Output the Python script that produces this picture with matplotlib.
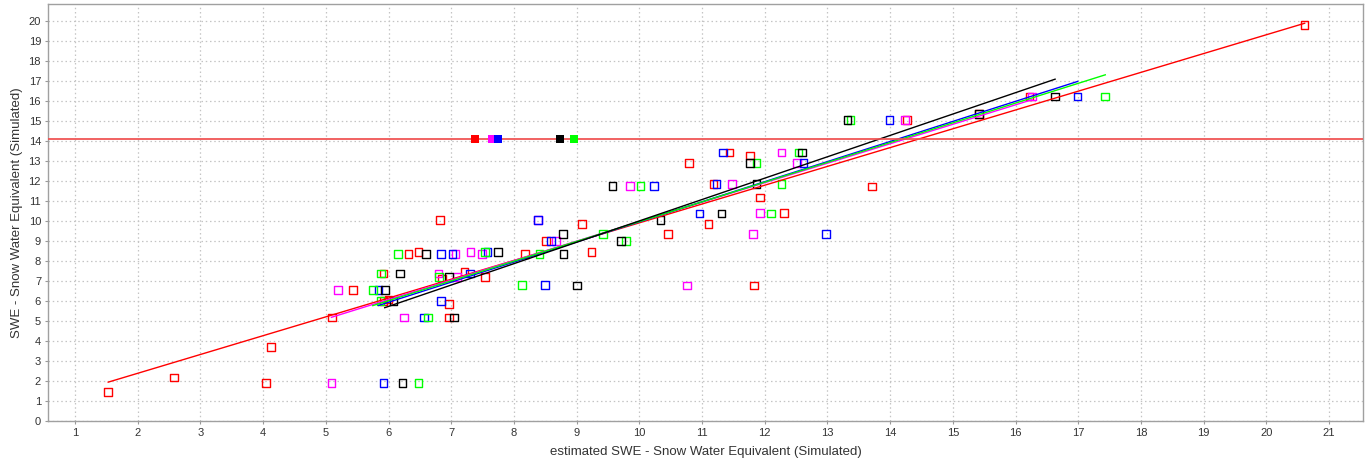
import numpy as np
import matplotlib
matplotlib.use("Agg")
import matplotlib.pyplot as plt

# ---- data ----
red_x = [1.53, 2.58, 4.05, 4.13, 5.10, 5.43, 5.92, 5.92, 6.00, 6.32, 6.48, 6.82, 6.85, 6.96, 6.96,
         7.21, 7.54, 8.18, 8.51, 9.09, 9.24, 10.46, 10.79, 11.10, 11.18, 11.44, 11.76, 11.83, 11.92,
         12.31, 13.71, 14.27, 15.42, 16.22, 20.61]
red_y = [1.45, 2.17, 1.89, 3.69, 5.17, 6.54, 7.36, 5.99, 6.07, 8.33, 8.44, 10.03, 7.12, 5.84, 5.17,
         7.43, 7.20, 8.34, 9.00, 9.83, 8.44, 9.33, 12.88, 9.83, 11.85, 13.41, 13.26, 6.76, 11.16,
         10.38, 11.72, 15.05, 15.35, 16.22, 19.80]

magenta_x = [5.09, 5.19, 6.25, 6.80, 7.07, 7.09, 7.31, 7.49, 8.38, 8.67, 9.85, 10.76, 11.48, 11.81,
             11.92, 12.27, 12.51, 14.24, 16.26]
magenta_y = [1.89, 6.54, 5.17, 7.36, 8.33, 7.20, 8.44, 8.33, 10.03, 8.99, 11.75, 6.76, 11.85, 9.33,
             10.38, 13.41, 12.88, 15.05, 16.22]

blue_x = [5.84, 5.92, 6.57, 6.84, 6.84, 7.02, 7.30, 7.58, 8.38, 8.50, 8.59, 10.23, 10.96, 11.23,
          11.33, 12.62, 12.98, 13.99, 16.99]
blue_y = [6.54, 1.89, 5.17, 8.33, 5.99, 8.33, 7.36, 8.44, 10.03, 6.78, 8.99, 11.75, 10.36, 11.85,
          13.41, 12.88, 9.33, 15.05, 16.22]

green_x = [5.75, 5.87, 5.88, 6.15, 6.48, 6.63, 6.81, 7.54, 8.13, 8.41, 9.42, 9.79, 10.02, 11.87,
           12.10, 12.27, 12.54, 13.37, 17.43]
green_y = [6.54, 5.99, 7.36, 8.33, 1.89, 5.17, 7.20, 8.44, 6.78, 8.34, 9.33, 8.99, 11.75, 12.88,
           10.36, 11.83, 13.41, 15.05, 16.22]

black_x = [5.94, 6.08, 6.18, 6.22, 6.60, 6.96, 7.04, 7.75, 8.78, 8.79, 9.01, 9.57, 9.71, 10.34,
           11.31, 11.76, 11.87, 12.59, 13.32, 15.42, 16.63]
black_y = [6.54, 5.99, 7.36, 1.89, 8.33, 7.20, 5.17, 8.44, 9.33, 8.34, 6.76, 11.75, 8.99, 10.03,
           10.36, 12.88, 11.85, 13.41, 15.05, 15.35, 16.22]

# filled markers on the reference line
ref_level = 14.08
ref_marker_x = [7.38, 7.65, 7.75, 8.74, 8.96]
ref_marker_colors = ["#ff0000", "#ff00ff", "#0000ff", "#000000", "#00ff00"]

series = [
    ("#ff0000", red_x, red_y),
    ("#ff00ff", magenta_x, magenta_y),
    ("#0000ff", blue_x, blue_y),
    ("#00ff00", green_x, green_y),
    ("#000000", black_x, black_y),
]

x_ticks = list(range(1, 22))
y_ticks = list(range(0, 21))

# ---- figure ----
plt.rcParams['font.family'] = ['Liberation Sans', 'DejaVu Sans']
fig = plt.figure(figsize=(13.68, 4.63), dpi=100)
ax = fig.add_axes([48/1368, 1-420.7/463, (1363-48)/1368, (420.7-4)/463])

for color, xs, ys in series:
    ax.scatter(xs, ys, marker='s', s=30, facecolors='none', edgecolors=color,
               linewidths=1.0, zorder=3)

for color, xs, ys in series:
    xs_a = np.array(xs); ys_a = np.array(ys)
    k, b = np.polyfit(xs_a, ys_a, 1)
    xx = np.array([xs_a.min(), xs_a.max()])
    ax.plot(xx, k*xx + b, color=color, lw=1.0, zorder=4)

ax.axhline(ref_level, color='#f05050', lw=1.4, alpha=0.9, zorder=5)
for xv, c in zip(ref_marker_x, ref_marker_colors):
    ax.scatter([xv], [ref_level], marker='s', s=36, color=c, zorder=6, linewidths=0)

ax.set_xlim(0.57, 21.54)
ax.set_ylim(0, 20.85)
ax.set_xticks(x_ticks)
ax.set_yticks(y_ticks)
ax.tick_params(axis='both', labelsize=8, length=2, width=0.8, color='#999999',
               labelcolor='#333333', pad=3)
ax.grid(True, color='#c4c4c4', linestyle=(0, (1.2, 2.2)), linewidth=0.9)
ax.set_axisbelow(True)
for sp in ax.spines.values():
    sp.set_color('#a0a0a0')
    sp.set_linewidth(1.0)

ax.set_xlabel('estimated SWE - Snow Water Equivalent (Simulated)', fontsize=9.5, color='#333333',
              labelpad=6)
ax.set_ylabel('SWE - Snow Water Equivalent (Simulated)', fontsize=9.5, color='#333333', labelpad=4)

fig.savefig('out.png', dpi=100)
